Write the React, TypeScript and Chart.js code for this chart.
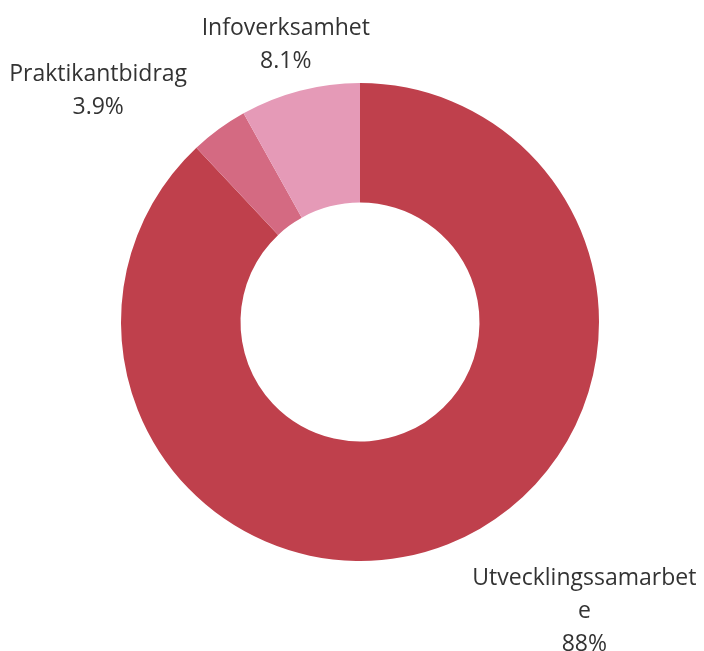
import React, { useEffect, useRef } from "react";
import { Chart, registerables } from "chart.js";

Chart.register(...registerables);

const categories = ["Utvecklingssamarbete", "Praktikantbidrag", "Infoverksamhet"];
const values = [88, 3.9, 8.1];
const valueLabels = ["88%", "3.9%", "8.1%"];
const colors = ["#bf404c", "#d46a82", "#e59ab7"];

// label placement relative to the arc's outer edge (style, not data)
const labelPlacement = [
  { align: "left", v: "top", dx: 17, dy: 22 },
  { align: "right", v: "bottom", dx: -20, dy: 1 },
  { align: "center", v: "bottom", dx: -9, dy: -3 },
];

const FONT = '400 23px "Open Sans"';
const LINE_H = 33;
const LABEL_DIST = 20;

function wrapText(ctx: CanvasRenderingContext2D, text: string, maxW: number): string[] {
  const lines: string[] = [];
  let cur = "";
  for (const ch of text) {
    if (cur && ctx.measureText(cur + ch).width > maxW) {
      lines.push(cur);
      cur = ch;
    } else cur += ch;
  }
  if (cur) lines.push(cur);
  return lines;
}

const labelPlugin = {
  id: "outerLabels",
  afterDraw(chart: any) {
    const ctx: CanvasRenderingContext2D = chart.ctx;
    const meta = chart.getDatasetMeta(0);
    ctx.save();
    ctx.font = FONT;
    ctx.fillStyle = "#333333";
    ctx.textBaseline = "alphabetic";
    ctx.textAlign = "center";
    meta.data.forEach((arc: any, i: number) => {
      const p = arc.getProps(["x", "y", "startAngle", "endAngle", "outerRadius"], true);
      const mid = (p.startAngle + p.endAngle) / 2;
      const r = p.outerRadius + LABEL_DIST;
      const ax = p.x + Math.cos(mid) * r;
      const ay = p.y + Math.sin(mid) * r;
      const pl = labelPlacement[i];
      const bx = ax + pl.dx;
      let maxW = 1000;
      if (pl.align === "left") maxW = chart.width - bx - 4;
      const lines = [...wrapText(ctx, categories[i], maxW), valueLabels[i]];
      const blockW = Math.max(...lines.map((l) => ctx.measureText(l).width));
      let cx = bx;
      if (pl.align === "left") cx = bx + blockW / 2;
      else if (pl.align === "right") cx = bx - blockW / 2;
      let firstBase: number;
      if (pl.v === "top") firstBase = ay + pl.dy;
      else firstBase = ay + pl.dy - (lines.length - 1) * LINE_H;
      lines.forEach((l, k) => ctx.fillText(l, cx, firstBase + k * LINE_H));
    });
    ctx.restore();
  },
};

export default function App() {
  const ref = useRef<HTMLCanvasElement | null>(null);
  useEffect(() => {
    if (!ref.current) return;
    const chart = new Chart(ref.current, {
      type: "doughnut",
      data: {
        labels: categories,
        datasets: [
          {
            data: values,
            backgroundColor: colors,
            borderWidth: 0,
          },
        ],
      },
      options: {
        animation: false,
        responsive: true,
        maintainAspectRatio: false,
        cutout: "50%",
        layout: { padding: { left: 121, right: 105, top: 83, bottom: 90 } },
        plugins: {
          legend: { display: false },
          tooltip: { enabled: false },
        },
      },
      plugins: [labelPlugin],
    });
    return () => chart.destroy();
  }, []);
  return (
    <div style={{ position: "absolute", left: 0, top: 0, width: 704, height: 651 }}>
      <canvas ref={ref} />
    </div>
  );
}
